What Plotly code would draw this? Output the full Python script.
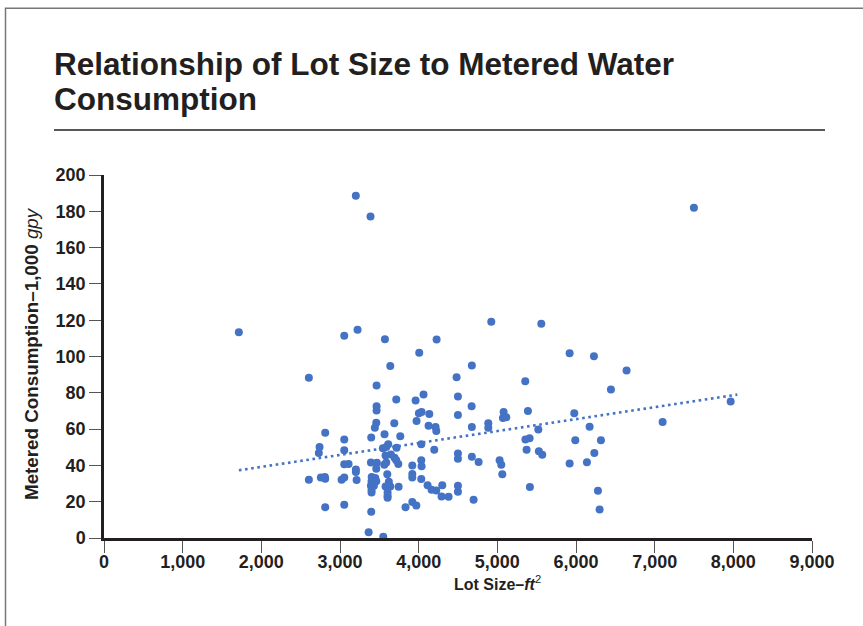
import plotly.graph_objects as go

# ---------------- data ----------------
lot_size = [
    3201, 3388, 1714, 3054, 3223, 3571, 4007, 4228, 4923, 5559,
    3639, 4676, 7499, 5919, 6228, 6643, 5355, 6444, 7966, 5080,
    5071, 5114, 5389, 5978, 7101, 5521, 6173, 5357, 5410, 5991,
    6317, 5372, 5528, 5571, 6233, 5919, 6139, 5029, 5050, 5063,
    5414, 6279, 6300, 2604, 4482, 3465, 3715, 3961, 4062, 4499,
    4673, 3465, 3465, 4003, 4037, 4135, 4499, 3461, 3443, 3690,
    3973, 4126, 4215, 4224, 4676, 4885, 4885, 2812, 3397, 3566,
    3766, 3054, 4033, 2740, 2731, 3054, 3545, 3588, 3613, 3719,
    4198, 4499, 4499, 4676, 4762, 3579, 3647, 3694, 3741, 3715,
    3393, 3469, 3461, 3563, 3588, 3054, 3109, 3202, 3202, 2604,
    2757, 2808, 2812, 3020, 3054, 3211, 3919, 4033, 4037, 3919,
    3919, 4033, 3403, 3448, 3401, 3461, 3431, 3393, 3401, 3401,
    3601, 3621, 3579, 3639, 3605, 3605, 3605, 3745, 4113, 4164,
    4224, 4300, 4499, 4499, 4291, 4380, 4698, 2812, 3054, 3397,
    3833, 3919, 3970, 3364, 3550,
]
consumption = [
    188.5, 177.1, 113.4, 111.4, 114.7, 109.5, 102.1, 109.3, 119.1, 118.0,
    94.7, 95.1, 181.9, 101.8, 100.1, 92.3, 86.3, 81.8, 75.2, 69.4,
    66.1, 66.5, 70.0, 68.7, 63.9, 59.8, 61.3, 54.3, 55.0, 53.9,
    53.9, 48.6, 47.8, 45.8, 46.9, 41.0, 41.7, 42.8, 40.3, 35.1,
    28.1, 26.0, 15.7, 88.3, 88.5, 84.0, 76.3, 75.7, 79.0, 77.9,
    72.6, 72.6, 70.2, 68.7, 69.4, 68.3, 67.8, 63.5, 60.8, 63.2,
    64.4, 61.9, 61.1, 58.9, 61.1, 63.2, 60.8, 58.0, 55.4, 57.1,
    56.1, 54.3, 51.7, 50.2, 46.9, 48.4, 49.5, 50.2, 51.7, 49.7,
    48.6, 46.5, 43.6, 44.7, 41.9, 45.4, 46.0, 44.2, 40.8, 42.8,
    41.6, 41.4, 38.2, 40.4, 41.6, 40.6, 40.8, 37.8, 36.4, 32.1,
    33.4, 33.6, 32.7, 32.1, 33.4, 32.0, 39.9, 42.8, 39.5, 35.3,
    33.4, 32.5, 33.6, 33.1, 31.2, 31.2, 28.8, 28.8, 25.1, 26.4,
    35.1, 31.0, 28.4, 28.4, 25.1, 22.2, 23.3, 28.3, 29.0, 26.6,
    26.2, 29.0, 28.8, 25.5, 22.9, 22.7, 21.1, 17.0, 18.3, 14.4,
    17.0, 19.9, 17.9, 3.2, 0.7,
]
trend_x = [1715, 8050]
trend_y = [37.3, 79.0]

x_ticks = [0, 1000, 2000, 3000, 4000, 5000, 6000, 7000, 8000, 9000]
y_ticks = [0, 20, 40, 60, 80, 100, 120, 140, 160, 180, 200]

title_line1 = "Relationship of Lot Size to Metered Water"
title_line2 = "Consumption"
y_title = "<b>Metered Consumption–1,000</b> <i>gpy</i>"
x_title = "<b>Lot Size–<i>ft</i></b><sup>2</sup>"

# ---------------- layout geometry ----------------
W, H = 863, 626
ML, MR, MT, MB = 104, 51, 175, 88
PW, PH = W - ML - MR, H - MT - MB


def px2x(px):
    return (px - ML) / PW


def py2y(py):
    return (H - MB - py) / PH


INK = "#231f20"
BLUE = "#4472C4"
FONT = "Liberation Sans, Arial, Helvetica, sans-serif"

fig = go.Figure()
fig.add_trace(go.Scatter(
    x=lot_size, y=consumption, mode="markers",
    marker=dict(color=BLUE, size=8, line=dict(width=0)),
    cliponaxis=False, showlegend=False, hoverinfo="x+y",
))
fig.add_trace(go.Scatter(
    x=trend_x, y=trend_y, mode="lines",
    line=dict(color=BLUE, width=2.6, dash="2.6px,3.6px"),
    showlegend=False, hoverinfo="skip",
))

axis_common = dict(
    showgrid=False, zeroline=False, showline=True, linecolor=INK, linewidth=2.5,
    ticks="outside", ticklen=12, tickwidth=1.4, tickcolor="#555",
    tickfont=dict(family=FONT, size=18, color=INK, weight="bold"),
)

fig.update_layout(
    width=W, height=H,
    margin=dict(l=ML, r=MR, t=MT, b=MB, pad=0),
    paper_bgcolor="white", plot_bgcolor="white",
    font=dict(family=FONT, color=INK),
    xaxis=dict(range=[0, 9000], tickvals=x_ticks, tickformat=",d",
               ticklabelstandoff=-6, **axis_common),
    yaxis=dict(range=[0, 200], tickvals=y_ticks, **axis_common),
    annotations=[
        dict(text=title_line1, xref="paper", yref="paper", x=px2x(52), y=py2y(43.5),
             xanchor="left", yanchor="top", showarrow=False,
             font=dict(family=FONT, size=31.5, color=INK, weight="bold")),
        dict(text=title_line2, xref="paper", yref="paper", x=px2x(52), y=py2y(78.5),
             xanchor="left", yanchor="top", showarrow=False,
             font=dict(family=FONT, size=31.5, color=INK, weight="bold")),
        dict(text=y_title, xref="paper", yref="paper", x=px2x(31), y=py2y(354),
             xanchor="center", yanchor="middle", textangle=-90, showarrow=False,
             font=dict(family=FONT, size=18.8, color=INK)),
        dict(text=x_title, xref="paper", yref="paper", x=px2x(497), y=py2y(583),
             xanchor="center", yanchor="middle", showarrow=False,
             font=dict(family=FONT, size=16, color=INK)),
    ],
    shapes=[
        dict(type="line", xref="paper", yref="paper", x0=px2x(54), x1=px2x(825),
             y0=py2y(130), y1=py2y(130), line=dict(color=INK, width=1.4)),
        dict(type="rect", xref="paper", yref="paper", x0=px2x(5.5), x1=px2x(900),
             y0=py2y(700), y1=py2y(8.3), line=dict(color="#777", width=1.5),
             layer="below"),
    ],
)

fig.write_html(
    "out.html",
    config={"displayModeBar": False},
    post_script="document.body.style.margin='0';document.body.style.padding='0';"
                "document.documentElement.style.overflow='hidden';",
)
